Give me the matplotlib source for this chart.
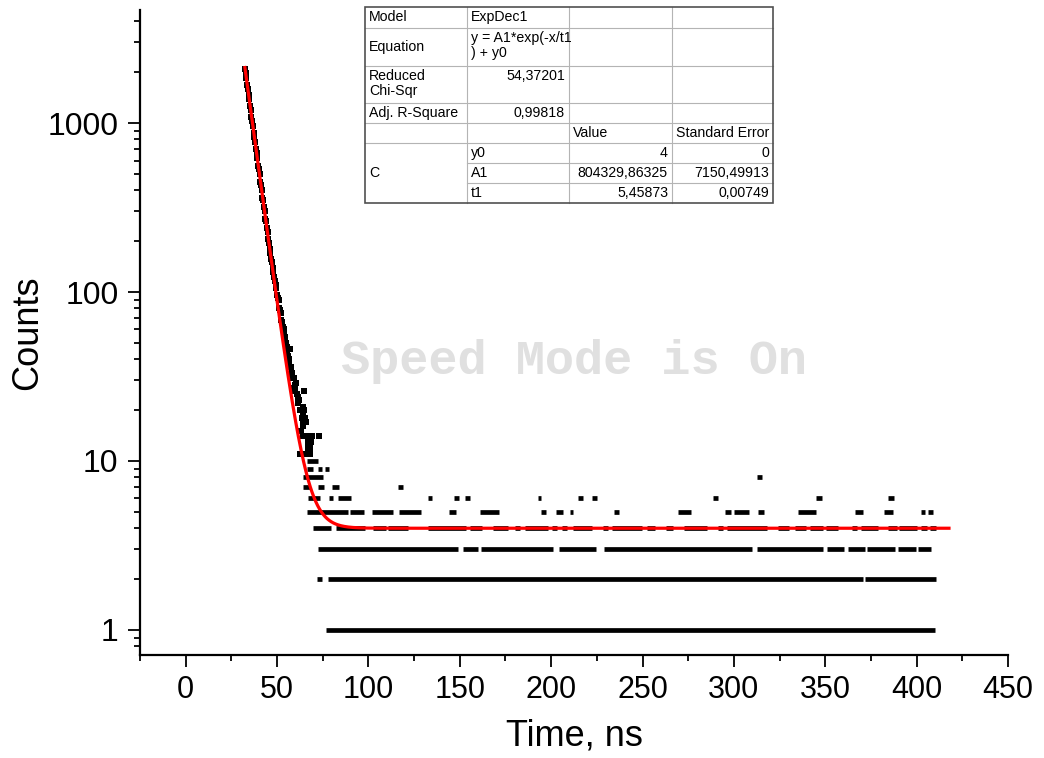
import matplotlib
matplotlib.use("Agg")
import numpy as np
import matplotlib.pyplot as plt
from matplotlib.patches import Rectangle

# ============================================
# Data
# ============================================

# Fit result (ExpDec1) shown in the table
Y0 = 4.0
A1 = 804329.86325
T1 = 5.45873
FIT_START, FIT_END = 32.4, 417.7

# Rising-count part of the decay: time (ns) and counts per bin
DECAY_T = [32.4, 32.8, 33.2, 33.6, 34.0, 34.4, 34.8, 35.2, 35.6, 36.0,
           36.4, 36.8, 37.2, 37.6, 38.0, 38.4, 38.8, 39.2, 39.6, 40.0,
           40.4, 40.8, 41.2, 41.6, 42.0, 42.4, 42.8, 43.2, 43.6, 44.0,
           44.4, 44.8, 45.2, 45.6, 46.0, 46.4, 46.8, 47.2, 47.6, 48.0,
           48.4, 48.8, 49.2, 49.6, 50.0, 50.4, 50.8, 51.2, 51.6, 52.0,
           52.4, 52.8, 53.2, 53.6, 54.0, 54.4, 54.8, 55.2, 55.6, 56.0,
           56.4, 56.8, 57.2, 57.6, 58.0, 58.4, 58.8, 59.2, 59.6, 60.0,
           60.4, 60.8, 61.2, 61.6, 62.0]
DECAY_C = [2090, 1990, 1850, 1690, 1600, 1460, 1390, 1260, 1200, 1080,
           1030, 960, 870, 830, 770, 700, 665, 620, 560, 535,
           500, 450, 430, 400, 362, 348, 320, 300, 270, 262,
           240, 226, 206, 196, 180, 170, 156, 150, 138, 131,
           122, 116, 110, 106, 96, 92, 90, 80, 78, 75,
           68, 66, 62, 60, 57, 54, 50, 47, 44, 42,
           40, 38, 46, 36, 33, 31, 27, 31, 28, 26,
           29, 25, 24, 22, 23]

# scattered points between 11 and 27 counts
SCAT_T = [64.8, 62.4, 63.2, 64.0, 64.8, 63.6, 64.4, 65.2, 64.0, 64.8, 66.0,
          63.2, 64.4, 64.4, 65.2, 66.4, 69.2, 73.1, 67.2, 68.4, 67.2, 68.0,
          62.8, 64.4, 65.6, 67.2, 68.0]
SCAT_C = [26, 20, 20, 21, 20, 18, 19, 18, 17, 17, 17,
          15, 16, 14, 14, 14, 14, 14, 13, 13, 12, 12,
          11, 11, 11, 11, 11]

# tail: runs of consecutive bins (start, end in ns) for each count level
ROW_10 = [(66.5, 72.5)]
ROW_9 = [(66.5, 69.8), (72.5, 74.7), (76.3, 78.5)]
ROW_8 = [(64.3, 75.3), (312.4, 315.2)]
ROW_7 = [(64.3, 68.1), (72.5, 75.8), (80.2, 84.1), (116.3, 119.1)]
ROW_6 = [(67.1, 73.6), (78.5, 80.8), (83.5, 90.6), (132.6, 134.8), (146.8, 149.6),
         (152.9, 155.6), (192.8, 194.4), (214.6, 217.4), (222.3, 225.0),
         (288.4, 291.1), (345.2, 348.0), (384.6, 387.8)]
ROW_5 = [(66.5, 88.9), (90.0, 97.6), (102.0, 113.5), (116.8, 128.8), (144.1, 147.9),
         (161.0, 171.4), (194.3, 197.1), (202.5, 206.4), (210.2, 211.9),
         (234.3, 237.0), (269.3, 276.4), (295.0, 298.2), (299.9, 308.1),
         (313.0, 316.3), (334.9, 344.7), (366.0, 370.4), (382.4, 386.8),
         (402.6, 404.8), (406.4, 409.1)]
ROW_4 = [(69.8, 79.6), (82.4, 98.2), (102.6, 109.7), (110.8, 121.7), (132.6, 153.4),
         (155.6, 162.1), (168.2, 176.4), (180.2, 183.0), (185.6, 198.2),
         (200.4, 203.1), (205.8, 208.5), (211.9, 222.2), (228.3, 231.0),
         (233.2, 249.6), (252.3, 256.7), (262.7, 266.5), (272.5, 285.1),
         (291.1, 293.8), (296.0, 317.9), (323.9, 330.4), (333.7, 339.2),
         (341.9, 348.5), (350.2, 356.7), (364.4, 367.6), (369.3, 379.1),
         (384.6, 389.0), (390.6, 400.4), (402.6, 405.9), (407.5, 410.8)]
ROW_3 = [(72.6, 149.0), (151.7, 160.0), (161.6, 200.9), (204.2, 224.4),
         (228.8, 309.7), (312.4, 348.5), (350.7, 360.0), (362.2, 372.0),
         (373.1, 388.4), (390.0, 399.9), (401.0, 408.1)]
ROW_2 = [(71.9, 74.8), (78.0, 370.4), (372.0, 410.8)]
ROW_1 = [(76.9, 410.3)]

X_TICKS = [0, 50, 100, 150, 200, 250, 300, 350, 400, 450]
Y_TICKS = [1, 10, 100, 1000]
Y_TICK_LABELS = ["1", "10", "100", "1000"]

TABLE_ROWS = [
    ["Model", "ExpDec1", "", ""],
    ["Equation", "y = A1*exp(-x/t1\n) + y0", "", ""],
    ["Reduced\nChi-Sqr", "54,37201", "", ""],
    ["Adj. R-Square", "0,99818", "", ""],
    ["", "", "Value", "Standard Error"],
    ["C", "y0", "4", "0"],
    ["", "A1", "804329,86325", "7150,49913"],
    ["", "t1", "5,45873", "0,00749"],
]

# ============================================
# Figure
# ============================================

W, H = 1044, 758
FONT = "Liberation Sans"
plt.rcParams["font.family"] = [FONT, "DejaVu Sans"]

fig = plt.figure(figsize=(W / 100, H / 100), dpi=100)
ax = fig.add_axes([140 / W, 1 - 655 / H, (1008 - 140) / W, (655 - 10) / H])

ax.set_yscale("log")
ax.set_xlim(-25, 450)
ax.set_ylim(0.711, 4665)

# tail rows drawn as runs of touching square markers
rows = [(1, ROW_1), (2, ROW_2), (3, ROW_3), (4, ROW_4), (5, ROW_5),
        (6, ROW_6), (7, ROW_7), (8, ROW_8), (9, ROW_9), (10, ROW_10)]
for level, runs in rows:
    ax.hlines([level] * len(runs), [r[0] for r in runs], [r[1] for r in runs],
              colors="black", linewidth=3.4, zorder=2)

ax.plot(DECAY_T, DECAY_C, "s", color="black", ms=3.7, mew=0, zorder=2)
ax.plot(SCAT_T, SCAT_C, "s", color="black", ms=3.7, mew=0, zorder=2)

tt = np.linspace(FIT_START, FIT_END, 1500)
ax.plot(tt, A1 * np.exp(-tt / T1) + Y0, color="#ff0000", lw=2.3, zorder=3)

# axes styling (Origin look)
for side in ["top", "right"]:
    ax.spines[side].set_visible(False)
for side in ["left", "bottom"]:
    ax.spines[side].set_linewidth(1.6)

ax.set_xticks(X_TICKS)
ax.set_xticks(np.arange(-25, 450, 50), minor=True)
ax.set_yticks(Y_TICKS, Y_TICK_LABELS)
minor_y = [m * 10.0 ** e for e in range(-1, 4) for m in range(2, 10)]
ax.set_yticks([v for v in minor_y if 0.711 < v < 4665], minor=True)
ax.yaxis.set_minor_formatter(plt.NullFormatter())

ax.tick_params(which="major", length=8.5, width=1.3, labelsize=22, pad=6)
ax.tick_params(which="minor", length=4.5, width=1.3)
ax.tick_params(axis="y", which="major", labelsize=23, pad=7)

fig.text(28 / W, 1 - 333 / H, "Counts", rotation=90, fontsize=26,
         ha="center", va="center")
fig.text(574 / W, 1 - 745 / H, "Time, ns", fontsize=26,
         ha="center", va="baseline")

# ============================================
# Overlay: watermark and fit table (pixel coords)
# ============================================

ov = fig.add_axes([0, 0, 1, 1])
ov.set_xlim(0, W)
ov.set_ylim(H, 0)
ov.axis("off")

ov.text(574, 361, "Speed Mode is On", fontsize=35, fontweight="bold",
        family="Liberation Mono", color="#e0e0e0", ha="center", va="center",
        zorder=1)

col_x = [365, 467, 569, 672, 773]
row_y = [7, 28, 66, 103, 123, 143, 163, 183, 203]
ov.add_patch(Rectangle((col_x[0], row_y[0]), col_x[-1] - col_x[0],
                       row_y[-1] - row_y[0], facecolor="white",
                       edgecolor="none", zorder=4))
grid_c = "#b4b4b4"
for x in col_x[1:-1]:
    ov.plot([x, x], [row_y[0], row_y[-1]], color=grid_c, lw=0.8, zorder=5)
for i, y in enumerate(row_y[1:-1], start=1):
    x0 = col_x[1] if i >= 6 else col_x[0]
    ov.plot([x0, col_x[-1]], [y, y], color=grid_c, lw=0.8, zorder=5)
ov.add_patch(Rectangle((col_x[0], row_y[0]), col_x[-1] - col_x[0],
                       row_y[-1] - row_y[0], facecolor="none",
                       edgecolor="#505050", lw=1.2, zorder=6))

tfs = 10.2
for r, cells in enumerate(TABLE_ROWS):
    top, bot = row_y[r], row_y[r + 1]
    for c, txt in enumerate(cells):
        if not txt:
            continue
        numeric = txt[0].isdigit()
        if r == 5 and c == 0:
            ov.text(col_x[0] + 4, (row_y[5] + row_y[8]) / 2, txt, fontsize=tfs,
                    ha="left", va="center", zorder=7)
        elif numeric:
            ov.text(col_x[c + 1] - 4, top + 3, txt, fontsize=tfs,
                    ha="right", va="top", zorder=7, linespacing=1.1)
        elif c == 0 and r in (1, 3):
            ov.text(col_x[c] + 4, (top + bot) / 2, txt, fontsize=tfs,
                    ha="left", va="center", zorder=7)
        else:
            ov.text(col_x[c] + 4, top + 3, txt, fontsize=tfs,
                    ha="left", va="top", zorder=7, linespacing=1.1)

fig.savefig("out.png", dpi=100)
